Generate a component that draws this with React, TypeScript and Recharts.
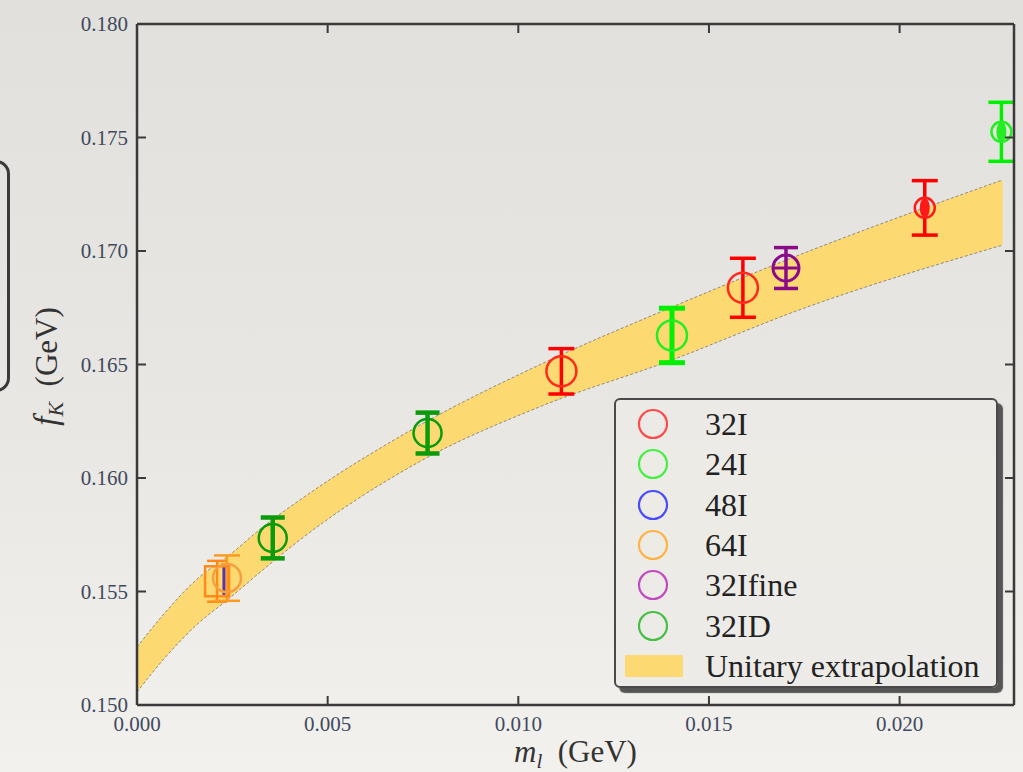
import React from 'react';
import { ComposedChart, Area, Scatter, ErrorBar, XAxis, YAxis, Label } from 'recharts';

const SERIF = '"Liberation Serif", "DejaVu Serif", serif';

// Unitary extrapolation band: m_l vs lower / upper f_K
const bandX = [0, 0.00068, 0.00157, 0.00243, 0.0033, 0.00427, 0.00741, 0.01055, 0.01403, 0.01736, 0.0227];
const bandLow = [0.15057, 0.15198, 0.15354, 0.15471, 0.15595, 0.15727, 0.16072, 0.16313, 0.1652, 0.1674, 0.17026];
const bandHigh = [0.15255, 0.15396, 0.15554, 0.15661, 0.15784, 0.15903, 0.16232, 0.16498, 0.16753, 0.16982, 0.17313];

// ensemble points: x = m_l, y = f_K, err = symmetric error
const fk32I = [
    { x: 0.01113, y: 0.1647, err: 0.001 },
    { x: 0.01589, y: 0.16838, err: 0.0013 },
];
const fk32IHeavy = [{ x: 0.02066, y: 0.1719, err: 0.0012 }];
const fk24I = [{ x: 0.01403, y: 0.16628, err: 0.0012 }];
const fk24IHeavy = [{ x: 0.02267, y: 0.17525, err: 0.0013 }];
const fk48I = [{ x: 0.00228, y: 0.15555, err: 0.0007 }];
const fk64I = [{ x: 0.00236, y: 0.15559, err: 0.001 }];
const fk64IAlt = [{ x: 0.0021, y: 0.15545, err: 0.0009 }];
const fk32Ifine = [{ x: 0.01702, y: 0.16925, err: 0.0009 }];
const fk32ID = [
    { x: 0.00356, y: 0.15736, err: 0.0009 },
    { x: 0.00762, y: 0.16198, err: 0.0009 },
];

const xTicks = [0, 0.005, 0.01, 0.015, 0.02];
const yTicks = [0.15, 0.155, 0.16, 0.165, 0.17, 0.175, 0.18];

const legendNames = ['32I', '24I', '48I', '64I', '32Ifine', '32ID'];
const legendColors = ['#ff4a4a', '#45ef45', '#4a4aff', '#ffb347', '#c04ac0', '#45c045'];
const bandLabel = 'Unitary extrapolation';

const bandData = bandX.map((x, i) => ({ x, band: [bandLow[i], bandHigh[i]] }));

const AXIS = '#3a3a3a';
const TICK_TEXT = '#3f4a5e';

const ring = (color: string, r = 14, sw = 2.5) => (p: any) => (
    <circle cx={p.cx} cy={p.cy} r={r} fill="none" stroke={color} strokeWidth={sw} />
);

const heavyMark = (color: string) => (p: any) => (
    <g>
        <circle cx={p.cx} cy={p.cy} r={10} fill="none" stroke={color} strokeWidth={2.5} />
        <ellipse cx={p.cx} cy={p.cy} rx={5} ry={10} fill={color} />
    </g>
);

const crossRing = (color: string) => (p: any) => (
    <g>
        <circle cx={p.cx} cy={p.cy} r={13} fill="none" stroke={color} strokeWidth={3} />
        <line x1={p.cx - 13} x2={p.cx + 13} y1={p.cy} y2={p.cy} stroke={color} strokeWidth={3} />
    </g>
);

const hollowSquare = (color: string) => (p: any) => (
    <rect x={p.cx - 12} y={p.cy - 15} width={24} height={30} fill="none" stroke={color} strokeWidth={2.5} />
);

const noMark = () => <g />;

function LeftTick({ x, y, payload }: any) {
    return (
        <g>
            <line x1={x} x2={x + 9} y1={y} y2={y} stroke={AXIS} strokeWidth={2} />
            <text x={x - 9} y={y} dy={7} textAnchor="end" fontFamily={SERIF} fontSize={21} fill={TICK_TEXT}>
                {payload.value.toFixed(3)}
            </text>
        </g>
    );
}

function BottomTick({ x, y, payload }: any) {
    return (
        <g>
            <line x1={x} x2={x} y1={y} y2={y - 9} stroke={AXIS} strokeWidth={2} />
            <text x={x} y={y} dy={26} textAnchor="middle" fontFamily={SERIF} fontSize={21} fill={TICK_TEXT}>
                {payload.value.toFixed(3)}
            </text>
        </g>
    );
}

// frame ticks on the top and right edges point into the plot
function TopTick({ x, y }: any) {
    return <line x1={x} x2={x} y1={y} y2={y + 9} stroke={AXIS} strokeWidth={2} />;
}

function RightTick({ x, y }: any) {
    return <line x1={x} x2={x - 9} y1={y} y2={y} stroke={AXIS} strokeWidth={2} />;
}

function XTitle({ viewBox }: any) {
    const cx = viewBox.x + viewBox.width / 2;
    return (
        <text x={cx} y={viewBox.y + 57} textAnchor="middle" fontFamily={SERIF} fontSize={31} fill="#333">
            <tspan fontStyle="italic">m</tspan>
            <tspan fontStyle="italic" fontSize={21} dy={6}>l</tspan>
            <tspan dy={-6}>{'\u00a0\u00a0(GeV)'}</tspan>
        </text>
    );
}

function YTitle({ viewBox }: any) {
    const x = 57;
    const y = viewBox.y + viewBox.height / 2 + 2;
    return (
        <text x={x} y={y} transform={`rotate(-90, ${x}, ${y})`} textAnchor="middle" fontFamily={SERIF} fontSize={31} fill="#333">
            <tspan fontStyle="italic" fontSize={33}>f</tspan>
            <tspan fontStyle="italic" fontSize={22} dy={6}>K</tspan>
            <tspan dy={-6}>{'\u00a0\u00a0(GeV)'}</tspan>
        </text>
    );
}

function LegendBox() {
    return (
        <div
            style={{
                position: 'absolute',
                left: 614,
                top: 398,
                width: 384,
                height: 290,
                boxSizing: 'border-box',
                border: '2px solid #4a4a4a',
                borderRadius: 6,
                background: 'rgba(236, 234, 230, 0.92)',
                boxShadow: '5px 5px 1px #555',
                fontFamily: SERIF,
            }}
        >
            {legendNames.map((name, i) => (
                <div key={name} style={{ position: 'absolute', left: 0, top: 4 + i * 40.3, height: 40, width: '100%' }}>
                    <svg width={40} height={40} style={{ position: 'absolute', left: 17, top: 0 }}>
                        <circle cx={20} cy={20} r={14} fill="none" stroke={legendColors[i]} strokeWidth={2.2} />
                    </svg>
                    <span style={{ position: 'absolute', left: 89, top: 0, lineHeight: '40px', fontSize: 32, color: '#222' }}>{name}</span>
                </div>
            ))}
            <div style={{ position: 'absolute', left: 0, top: 4 + 6 * 40.3, height: 40, width: '100%' }}>
                <div style={{ position: 'absolute', left: 9, top: 9, width: 58, height: 22, background: '#fdd972' }} />
                <span style={{ position: 'absolute', left: 89, top: 0, lineHeight: '40px', fontSize: 32, color: '#222' }}>{bandLabel}</span>
            </div>
        </div>
    );
}

export default function App() {
    return (
        <div
            style={{
                position: 'absolute',
                left: 0,
                top: 0,
                width: 1023,
                height: 772,
                overflow: 'hidden',
                background: 'linear-gradient(180deg, #e2e0dd 0%, #e9e7e3 55%, #f3f1ed 100%)',
            }}
        >
            {/* slide frame edge on the left */}
            <div
                style={{
                    position: 'absolute',
                    left: -40,
                    top: 160,
                    width: 44,
                    height: 226,
                    border: '3px solid #3a3a3a',
                    borderRadius: 14,
                }}
            />
            <ComposedChart width={1023} height={772} data={bandData} margin={{ top: 23, right: 8, bottom: 0, left: 0 }}>
                <XAxis
                    dataKey="x"
                    type="number"
                    domain={[0, 0.023]}
                    ticks={xTicks}
                    allowDataOverflow
                    height={67}
                    tickSize={0}
                    tickMargin={0}
                    tick={<BottomTick />}
                    tickLine={false}
                    axisLine={{ stroke: AXIS, strokeWidth: 2.5 }}
                >
                    <Label content={<XTitle />} />
                </XAxis>
                <XAxis
                    xAxisId="top"
                    orientation="top"
                    dataKey="x"
                    type="number"
                    domain={[0, 0.023]}
                    ticks={xTicks}
                    allowDataOverflow
                    height={1}
                    tickSize={0}
                    tickMargin={0}
                    tick={<TopTick />}
                    tickLine={false}
                    axisLine={{ stroke: AXIS, strokeWidth: 2.5 }}
                />
                <YAxis
                    type="number"
                    domain={[0.15, 0.18]}
                    ticks={yTicks}
                    allowDataOverflow
                    width={137}
                    tickSize={0}
                    tickMargin={0}
                    tick={<LeftTick />}
                    tickLine={false}
                    axisLine={{ stroke: AXIS, strokeWidth: 2.5 }}
                >
                    <Label content={<YTitle />} />
                </YAxis>
                <YAxis
                    yAxisId="right"
                    orientation="right"
                    type="number"
                    domain={[0.15, 0.18]}
                    ticks={yTicks}
                    allowDataOverflow
                    width={1}
                    tickSize={0}
                    tickMargin={0}
                    tick={<RightTick />}
                    tickLine={false}
                    axisLine={{ stroke: AXIS, strokeWidth: 2.5 }}
                />

                <Area
                    dataKey="band"
                    type="monotone"
                    fill="#fdd972"
                    fillOpacity={1}
                    stroke="#8f8a80"
                    strokeWidth={1}
                    strokeDasharray="3 2"
                    isAnimationActive={false}
                />

                <Scatter data={fk64IAlt} dataKey="y" shape={hollowSquare('#ff8a1a')} isAnimationActive={false}>
                    <ErrorBar dataKey="err" direction="y" width={10} stroke="#ff8a1a" strokeWidth={2.5} />
                </Scatter>
                <Scatter data={fk64I} dataKey="y" shape={ring('#f4a040', 14, 2.5)} isAnimationActive={false}>
                    <ErrorBar dataKey="err" direction="y" width={13} stroke="#ff9a20" strokeWidth={2.5} />
                </Scatter>
                <Scatter data={fk48I} dataKey="y" shape={noMark} isAnimationActive={false}>
                    <ErrorBar dataKey="err" direction="y" width={0} stroke="#5a34b0" strokeWidth={3} />
                </Scatter>
                <Scatter data={fk32ID} dataKey="y" shape={ring('#0b9a0b', 14, 2.5)} isAnimationActive={false}>
                    <ErrorBar dataKey="err" direction="y" width={12} stroke="#0b9a0b" strokeWidth={4.5} />
                </Scatter>
                <Scatter data={fk32I} dataKey="y" shape={ring('#ff2a1a', 15, 2.5)} isAnimationActive={false}>
                    <ErrorBar dataKey="err" direction="y" width={13} stroke="#ff0000" strokeWidth={3.5} />
                </Scatter>
                <Scatter data={fk24I} dataKey="y" shape={ring('#22ee22', 15, 2.5)} isAnimationActive={false}>
                    <ErrorBar dataKey="err" direction="y" width={13} stroke="#00f000" strokeWidth={5} />
                </Scatter>
                <Scatter data={fk32Ifine} dataKey="y" shape={crossRing('#8a0a8a')} isAnimationActive={false}>
                    <ErrorBar dataKey="err" direction="y" width={12} stroke="#8a0a8a" strokeWidth={3.5} />
                </Scatter>
                <Scatter data={fk32IHeavy} dataKey="y" shape={heavyMark('#ff1a1a')} isAnimationActive={false}>
                    <ErrorBar dataKey="err" direction="y" width={13} stroke="#ff0000" strokeWidth={3.5} />
                </Scatter>
                <Scatter
                    data={fk24IHeavy}
                    dataKey="y"
                    xAxisId="top"
                    yAxisId="right"
                    shape={heavyMark('#22ee22')}
                    isAnimationActive={false}
                >
                    <ErrorBar dataKey="err" direction="y" width={13} stroke="#00f000" strokeWidth={3.5} />
                </Scatter>
            </ComposedChart>
            <LegendBox />
        </div>
    );
}
